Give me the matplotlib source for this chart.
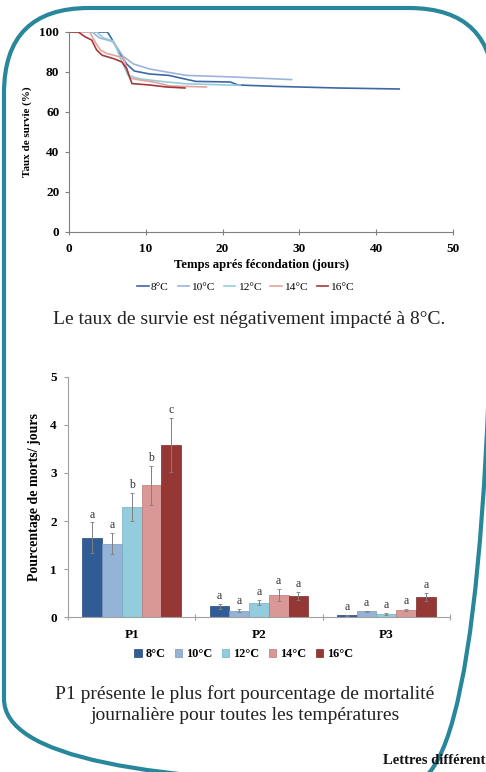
import matplotlib
matplotlib.use("Agg")
import matplotlib.pyplot as plt
from matplotlib.patches import FancyBboxPatch
import numpy as np

plt.rcParams['font.family'] = ['Liberation Serif', 'DejaVu Serif']

W, H = 486, 772

temps = ['8°C', '10°C', '12°C', '14°C', '16°C']
line_colors = ['#3E67A6', '#9DB4D8', '#93CDDD', '#E3A3A1', '#A33B3A']
bar_colors = ['#2F5C94', '#95B3D7', '#93CDDD', '#D99795', '#953735']
bar_edges = ['#24497A', '#7A95BC', '#6FAFC0', '#B97775', '#7A2A29']

# survie (%) vs temps apres fecondation (jours)
surv_x = [
    [0, 5, 5.5, 6.5, 7.5, 8.5, 10.5, 13, 14.5, 16.5, 21, 22, 27, 35, 43],
    [0, 3, 4, 5, 5.8, 7, 8.4, 10.5, 12.7, 15.3, 21.4, 29],
    [0, 3.6, 4.5, 5.8, 6.8, 7.7, 9.2, 12.7, 15.3, 22.3],
    [0, 2.7, 3.5, 4.1, 4.9, 6.2, 7.1, 7.9, 9.2, 11, 13.2, 17.9],
    [0, 1.2, 2.1, 2.95, 3.6, 4.3, 5.8, 6.9, 7.5, 8.2, 10.5, 12.7, 15.1],
]
surv_y = [
    [100, 100, 97, 90, 84, 80.5, 79, 78.3, 77, 75.3, 75, 73.5, 72.8, 72, 71.5],
    [100, 100, 97, 96, 95, 88, 84, 81.5, 80, 78.3, 77.5, 76.2],
    [100, 100, 97, 95.5, 86, 78.3, 76.6, 75, 74.1, 73.3],
    [100, 100, 94.3, 91, 89.3, 88, 87, 77, 76, 75, 73, 72.5],
    [100, 100, 97.6, 96, 91, 88.4, 86.7, 85, 81.7, 74.2, 73.5, 72.5, 72],
]

# mortalite journaliere par periode
periodes = ['P1', 'P2', 'P3']
morts = [
    [1.65, 0.22, 0.035],
    [1.53, 0.13, 0.12],
    [2.29, 0.30, 0.06],
    [2.74, 0.46, 0.14],
    [3.58, 0.44, 0.42],
]
erreurs = [
    [0.32, 0.06, 0.01],
    [0.22, 0.03, 0.01],
    [0.29, 0.06, 0.02],
    [0.40, 0.13, 0.02],
    [0.56, 0.09, 0.08],
]
lettres = [
    ['a', 'a', 'a'],
    ['a', 'a', 'a'],
    ['b', 'a', 'a'],
    ['b', 'a', 'a'],
    ['c', 'a', 'a'],
]

fig = plt.figure(figsize=(W / 100, H / 100), dpi=100)

def ax_px(x0, y0, x1, y1):
    return fig.add_axes([x0 / W, 1 - y1 / H, (x1 - x0) / W, (y1 - y0) / H])

# ---- cadre arrondi (axe de fond en pixels)
bg = fig.add_axes([0, 0, 1, 1], zorder=-1)
bg.set_xlim(0, W)
bg.set_ylim(H, 0)
bg.axis('off')
bg.add_patch(FancyBboxPatch((4, 8), 490, 776, boxstyle="round,pad=0,rounding_size=85",
                            fill=False, edgecolor='#28879A', lw=3.0))

# ---- courbes de survie
ax1 = ax_px(69, 32, 453, 232)
for i in range(len(temps)):
    ax1.plot(surv_x[i], surv_y[i], color=line_colors[i], lw=1.2, label=temps[i])
ax1.set_xlim(0, 50)
ax1.set_ylim(0, 100)
ax1.set_xticks(range(0, 51, 10))
ax1.set_yticks(range(0, 101, 20))
for s in ['top', 'right']:
    ax1.spines[s].set_visible(False)
for s in ['left', 'bottom']:
    ax1.spines[s].set_color('#7F7F7F')
ax1.tick_params(axis='x', direction='inout', length=4, color='#7F7F7F', pad=6)
ax1.tick_params(axis='y', direction='out', length=3, color='#7F7F7F', pad=4)
for t in ax1.get_xticklabels() + ax1.get_yticklabels():
    t.set_fontweight('bold')
    t.set_fontsize(9.5)
ax1.set_xlabel('Temps aprés fécondation (jours)', fontweight='bold', fontsize=9.2, labelpad=3)
ax1.set_ylabel('Taux de survie (%)', fontweight='bold', fontsize=8, labelpad=5)
ax1.legend(loc='upper center', bbox_to_anchor=(0.46, -0.2), ncol=5, frameon=False,
           fontsize=8.2, handlelength=1.0, handletextpad=0.2, columnspacing=0.8)

fig.text(249 / W, 1 - 320 / H, 'Le taux de survie est négativement impacté à 8°C.',
         ha='center', va='center', fontsize=14, color='#222222')

# ---- barres
ax2 = ax_px(68, 377, 450, 617)
xc = np.arange(len(periodes)) + 0.5
bw = 0.155
for i in range(len(temps)):
    pos = xc + (i - 2) * bw
    ax2.bar(pos, morts[i], bw, color=bar_colors[i], edgecolor=bar_edges[i], lw=0.5,
            label=temps[i], zorder=2)
    ax2.errorbar(pos, morts[i], yerr=erreurs[i], fmt='none', ecolor='#808080',
                 elinewidth=0.7, capsize=1.5, capthick=0.6, zorder=3)
    for j in range(len(periodes)):
        ax2.text(pos[j], morts[i][j] + erreurs[i][j] + 0.04, lettres[i][j],
                 ha='center', va='bottom', fontsize=8.5, color='#333333')
ax2.set_xlim(0, 3)
ax2.set_ylim(0, 5)
ax2.set_yticks(range(0, 6))
ax2.set_xticks([0, 1, 2, 3])
ax2.set_xticklabels([])
ax2.set_xticks(xc, minor=True)
ax2.set_xticklabels(periodes, minor=True)
ax2.tick_params(axis='x', which='major', direction='inout', length=4, color='#A0A0A0')
ax2.tick_params(axis='x', which='minor', length=0, pad=9)
ax2.tick_params(axis='y', direction='out', length=3, color='#A0A0A0', pad=5)
for s in ['top', 'right']:
    ax2.spines[s].set_visible(False)
for s in ['left', 'bottom']:
    ax2.spines[s].set_color('#A0A0A0')
for t in ax2.get_xticklabels(minor=True) + ax2.get_yticklabels():
    t.set_fontweight('bold')
    t.set_fontsize(9.5)
ax2.set_ylabel('Pourcentage de morts/ jours', fontweight='bold', fontsize=10, labelpad=7)
leg = ax2.legend(loc='upper center', bbox_to_anchor=(0.46, -0.085), ncol=5, frameon=False,
                 prop={'size': 8.8, 'weight': 'bold'}, handlelength=0.6, handleheight=0.6,
                 handletextpad=0.3, columnspacing=0.8)

fig.text(245 / W, 1 - 705 / H,
         'P1 présente le plus fort pourcentage de mortalité\njournalière pour toutes les températures',
         ha='center', va='center', fontsize=14, color='#222222', linespacing=1.3)

fig.text(485 / W, 1 - 760 / H, 'Lettres différent', ha='right', va='center',
         fontsize=10.5, fontweight='bold', color='#111111')

fig.savefig('out.png', dpi=100)
